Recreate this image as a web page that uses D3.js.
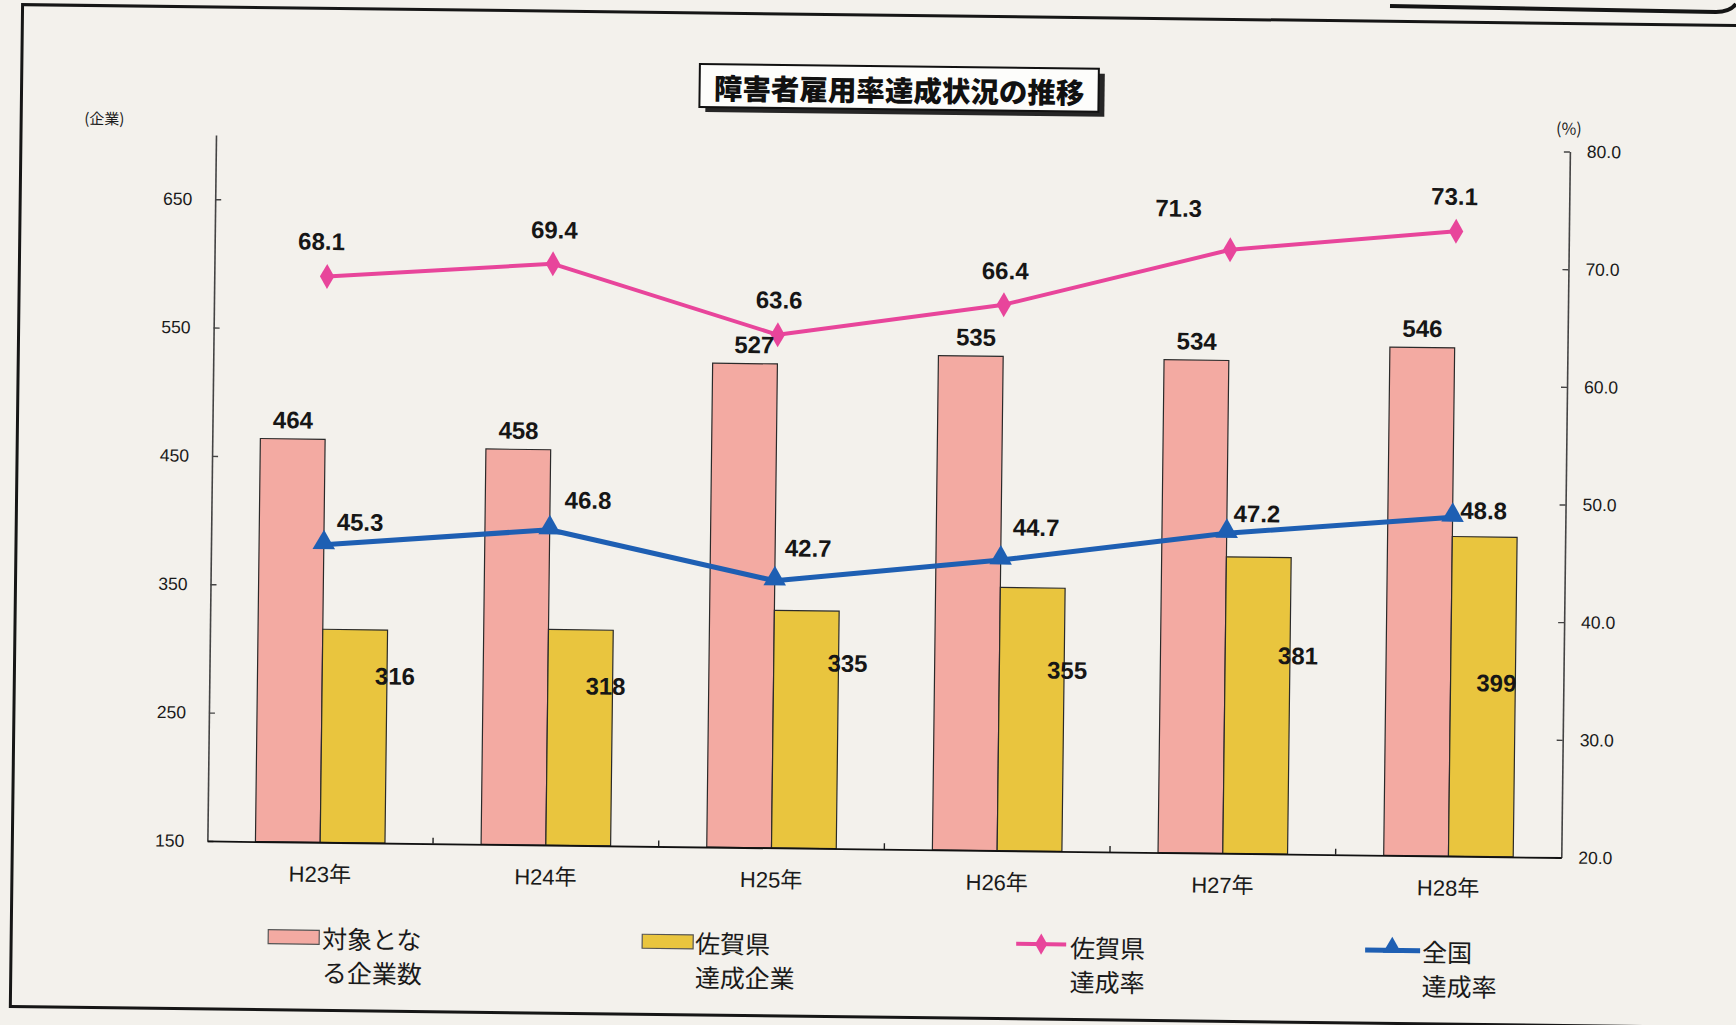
<!DOCTYPE html>
<html>
<head>
<meta charset="utf-8">
<script src="https://cdn.jsdelivr.net/npm/d3@7"></script>
<style>
  html, body { margin: 0; padding: 0; background: #f3f1ec; }
  svg { display: block; }
</style>
</head>
<body>
<svg id="chart" width="1736" height="1025"></svg>
<script>
// ---- data ----
const categories     = ["H23年", "H24年", "H25年", "H26年", "H27年", "H28年"];
const targetCompanies = [464, 458, 527, 535, 534, 546];   // 対象となる企業数
const sagaAchieved    = [316, 318, 335, 355, 381, 399];   // 佐賀県達成企業
const sagaRate        = [68.1, 69.4, 63.6, 66.4, 71.3, 73.1]; // 佐賀県達成率 (%)
const nationalRate    = [45.3, 46.8, 42.7, 44.7, 47.2, 48.8]; // 全国達成率 (%)
const leftTicks  = [150, 250, 350, 450, 550, 650];
const rightTicks = [20, 30, 40, 50, 60, 70, 80];

// ---- layout ----
const W = 1736, H = 1025;
const plot = { left: 216, top: 135, width: 1354, height: 706 };
const tilt = 0.7; // the printed page sits slightly askew
const C = {
  page: "#f3f1ec",
  pinkBar: "#f3aaa2",
  yellowBar: "#e9c53e",
  pinkLine: "#e8459b",
  blueLine: "#1e5fb3",
  ink: "#1a1a1a"
};
const numFont = "'Liberation Sans', Arial, sans-serif";
const jpFont = "'Noto Sans CJK JP', 'Noto Sans', sans-serif";

// label nudges (pixels) so value labels sit clear of the marks
const pinkBarLabelDx  = [0, 0, 9, 5, 0, 0];
const yellowLabelOff  = [[8, 46], [-7, 56], [9, 52], [3, 82], [8, 98], [-19, 146]];
const sagaLabelOff    = [[-6, -35], [1, -34], [1, -35], [1, -34], [-52, -41], [-2, -35]];
const natLabelOff     = [[36, -23], [38, -30], [33, -33], [35, -33], [30, -20], [31, -7]];

const svg = d3.select("#chart");
svg.append("rect").attr("width", W).attr("height", H).attr("fill", C.page);

// decorative rule of the neighbouring frame, top right
svg.append("path")
  .attr("d", "M1390,6 L1716,12 Q1730,12 1736,4")
  .attr("fill", "none").attr("stroke", "#151515").attr("stroke-width", 4);

const page = svg.append("g")
  .attr("transform", `rotate(${tilt},${plot.left},${plot.top})`);

// outer frame
page.append("rect")
  .attr("x", 21).attr("y", 7).attr("width", 1780).attr("height", 1002)
  .attr("fill", "none").attr("stroke", "#161616").attr("stroke-width", 3);

// title box with drop shadow
const title = page.append("g");
title.append("rect").attr("x", 705).attr("y", 63).attr("width", 399).attr("height", 43)
  .attr("fill", "#262626");
title.append("rect").attr("x", 699).attr("y", 58).attr("width", 399).attr("height", 43)
  .attr("fill", "#fdfdfb").attr("stroke", "#111").attr("stroke-width", 2);
title.append("text").attr("x", 898.5).attr("y", 80.5)
  .attr("text-anchor", "middle").attr("dominant-baseline", "central")
  .attr("font-family", jpFont).attr("font-weight", 900).attr("font-size", 28.5)
  .attr("fill", "#111").text("障害者雇用率達成状況の推移");

// unit labels
page.append("text").attr("x", 84).attr("y", 119).attr("dominant-baseline", "central")
  .attr("font-family", jpFont).attr("font-size", 15).attr("fill", C.ink).text("(企業)");
page.append("text").attr("x", 1556).attr("y", 111).attr("dominant-baseline", "central")
  .attr("font-family", jpFont).attr("font-size", 16).attr("fill", C.ink).text("(%)");

// ---- plot ----
const g = page.append("g").attr("transform", `translate(${plot.left},${plot.top})`);

const x = d3.scaleBand().domain(categories).range([0, plot.width]).padding(0);
const yL = d3.scaleLinear().domain([150, 700]).range([plot.height, 0]);
const yR = d3.scaleLinear().domain([20, 80]).range([plot.height, 0]);
const bw = x.bandwidth();
const barW = bw * 0.287;
const cx = c => x(c) + bw / 2;

// bars
g.selectAll(".bar-target").data(categories).join("rect")
  .attr("class", "bar-target")
  .attr("x", c => cx(c) - barW)
  .attr("y", (c, i) => yL(targetCompanies[i]))
  .attr("width", barW)
  .attr("height", (c, i) => yL(150) - yL(targetCompanies[i]))
  .attr("fill", C.pinkBar).attr("stroke", "#2a2a2a").attr("stroke-width", 1.2);

g.selectAll(".bar-saga").data(categories).join("rect")
  .attr("class", "bar-saga")
  .attr("x", c => cx(c))
  .attr("y", (c, i) => yL(sagaAchieved[i]))
  .attr("width", barW)
  .attr("height", (c, i) => yL(150) - yL(sagaAchieved[i]))
  .attr("fill", C.yellowBar).attr("stroke", "#2a2a2a").attr("stroke-width", 1.2);

// axes
const axL = g.append("g")
  .call(d3.axisLeft(yL).tickValues(leftTicks).tickSizeInner(-6).tickSizeOuter(0).tickPadding(23));
axL.select(".domain").attr("stroke", "#444").attr("stroke-width", 1.6);
axL.selectAll(".tick line").attr("stroke", "#444").attr("stroke-width", 1.4);
axL.selectAll(".tick text").attr("font-family", numFont).attr("font-size", 17.5).attr("fill", C.ink);

const axR = g.append("g").attr("transform", `translate(${plot.width},0)`)
  .call(d3.axisRight(yR).tickValues(rightTicks).tickFormat(d3.format(".1f"))
    .tickSizeInner(-6).tickSizeOuter(0).tickPadding(17));
axR.select(".domain").attr("stroke", "#444").attr("stroke-width", 1.6);
axR.selectAll(".tick line").attr("stroke", "#444").attr("stroke-width", 1.4);
axR.selectAll(".tick text").attr("font-family", numFont).attr("font-size", 17.5).attr("fill", C.ink);

const axB = g.append("g").attr("transform", `translate(0,${plot.height})`)
  .call(d3.axisBottom(x).tickSize(0).tickPadding(24));
axB.select(".domain").attr("stroke", "#111").attr("stroke-width", 1.8);
axB.selectAll(".tick text").attr("font-family", numFont + "," + jpFont)
  .attr("font-size", 22).attr("fill", C.ink);
// category separators on the base line
g.selectAll(".sep").data(categories.slice(1)).join("line")
  .attr("class", "sep")
  .attr("x1", c => x(c)).attr("x2", c => x(c))
  .attr("y1", plot.height).attr("y2", plot.height - 6)
  .attr("stroke", "#222").attr("stroke-width", 1.4);

// lines
const line = d3.line().x(d => cx(d.c)).y(d => yR(d.v));
const sagaPts = categories.map((c, i) => ({ c, v: sagaRate[i] }));
const natPts = categories.map((c, i) => ({ c, v: nationalRate[i] }));

g.append("path").datum(sagaPts).attr("d", line)
  .attr("fill", "none").attr("stroke", C.pinkLine).attr("stroke-width", 4).attr("stroke-linejoin", "round");
g.selectAll(".m-saga").data(sagaPts).join("path")
  .attr("class", "m-saga")
  .attr("d", d3.symbol(d3.symbolDiamond, 180))
  .attr("transform", d => `translate(${cx(d.c)},${yR(d.v)})`)
  .attr("fill", C.pinkLine);

g.append("path").datum(natPts).attr("d", line)
  .attr("fill", "none").attr("stroke", C.blueLine).attr("stroke-width", 5).attr("stroke-linejoin", "round");
g.selectAll(".m-nat").data(natPts).join("path")
  .attr("class", "m-nat")
  .attr("d", d3.symbol(d3.symbolTriangle, 220))
  .attr("transform", d => `translate(${cx(d.c)},${yR(d.v) - 2})`)
  .attr("fill", C.blueLine);

// value labels
function valueLabel(sel) {
  return sel.attr("text-anchor", "middle").attr("dominant-baseline", "central")
    .attr("font-family", numFont).attr("font-weight", 700).attr("font-size", 24)
    .attr("fill", "#161616");
}
valueLabel(g.selectAll(".lb-target").data(categories).join("text").attr("class", "lb-target")
  .attr("x", (c, i) => cx(c) - barW / 2 + pinkBarLabelDx[i])
  .attr("y", (c, i) => yL(targetCompanies[i]) - 19)
  .text((c, i) => targetCompanies[i]));

valueLabel(g.selectAll(".lb-saga").data(categories).join("text").attr("class", "lb-saga")
  .attr("x", (c, i) => cx(c) + barW + yellowLabelOff[i][0])
  .attr("y", (c, i) => yL(sagaAchieved[i]) + yellowLabelOff[i][1])
  .text((c, i) => sagaAchieved[i]));

valueLabel(g.selectAll(".lb-srate").data(categories).join("text").attr("class", "lb-srate")
  .attr("x", (c, i) => cx(c) + sagaLabelOff[i][0])
  .attr("y", (c, i) => yR(sagaRate[i]) + sagaLabelOff[i][1])
  .text((c, i) => d3.format(".1f")(sagaRate[i])));

valueLabel(g.selectAll(".lb-nrate").data(categories).join("text").attr("class", "lb-nrate")
  .attr("x", (c, i) => cx(c) + natLabelOff[i][0])
  .attr("y", (c, i) => yR(nationalRate[i]) + natLabelOff[i][1])
  .text((c, i) => d3.format(".1f")(nationalRate[i])));

// ---- legend ----
const lg = page.append("g");
function legendText(xp, lines) {
  lines.forEach((t, k) => {
    lg.append("text").attr("x", xp).attr("y", 936 + k * 34)
      .attr("dominant-baseline", "central")
      .attr("font-family", jpFont).attr("font-size", 25).attr("fill", C.ink).text(t);
  });
}
lg.append("rect").attr("x", 278).attr("y", 929).attr("width", 51).attr("height", 14)
  .attr("fill", C.pinkBar).attr("stroke", "#555").attr("stroke-width", 1.2);
legendText(332, ["対象とな", "る企業数"]);

lg.append("rect").attr("x", 652).attr("y", 929).attr("width", 51).attr("height", 14)
  .attr("fill", C.yellowBar).attr("stroke", "#555").attr("stroke-width", 1.2);
legendText(705, ["佐賀県", "達成企業"]);

lg.append("line").attr("x1", 1026).attr("x2", 1076).attr("y1", 934).attr("y2", 934)
  .attr("stroke", C.pinkLine).attr("stroke-width", 4);
lg.append("path").attr("d", d3.symbol(d3.symbolDiamond, 130))
  .attr("transform", "translate(1051,934)").attr("fill", C.pinkLine);
legendText(1080, ["佐賀県", "達成率"]);

lg.append("line").attr("x1", 1375).attr("x2", 1430).attr("y1", 936).attr("y2", 936)
  .attr("stroke", C.blueLine).attr("stroke-width", 5);
lg.append("path").attr("d", d3.symbol(d3.symbolTriangle, 150))
  .attr("transform", "translate(1402,933)").attr("fill", C.blueLine);
legendText(1432, ["全国", "達成率"]);
</script>
</body>
</html>
